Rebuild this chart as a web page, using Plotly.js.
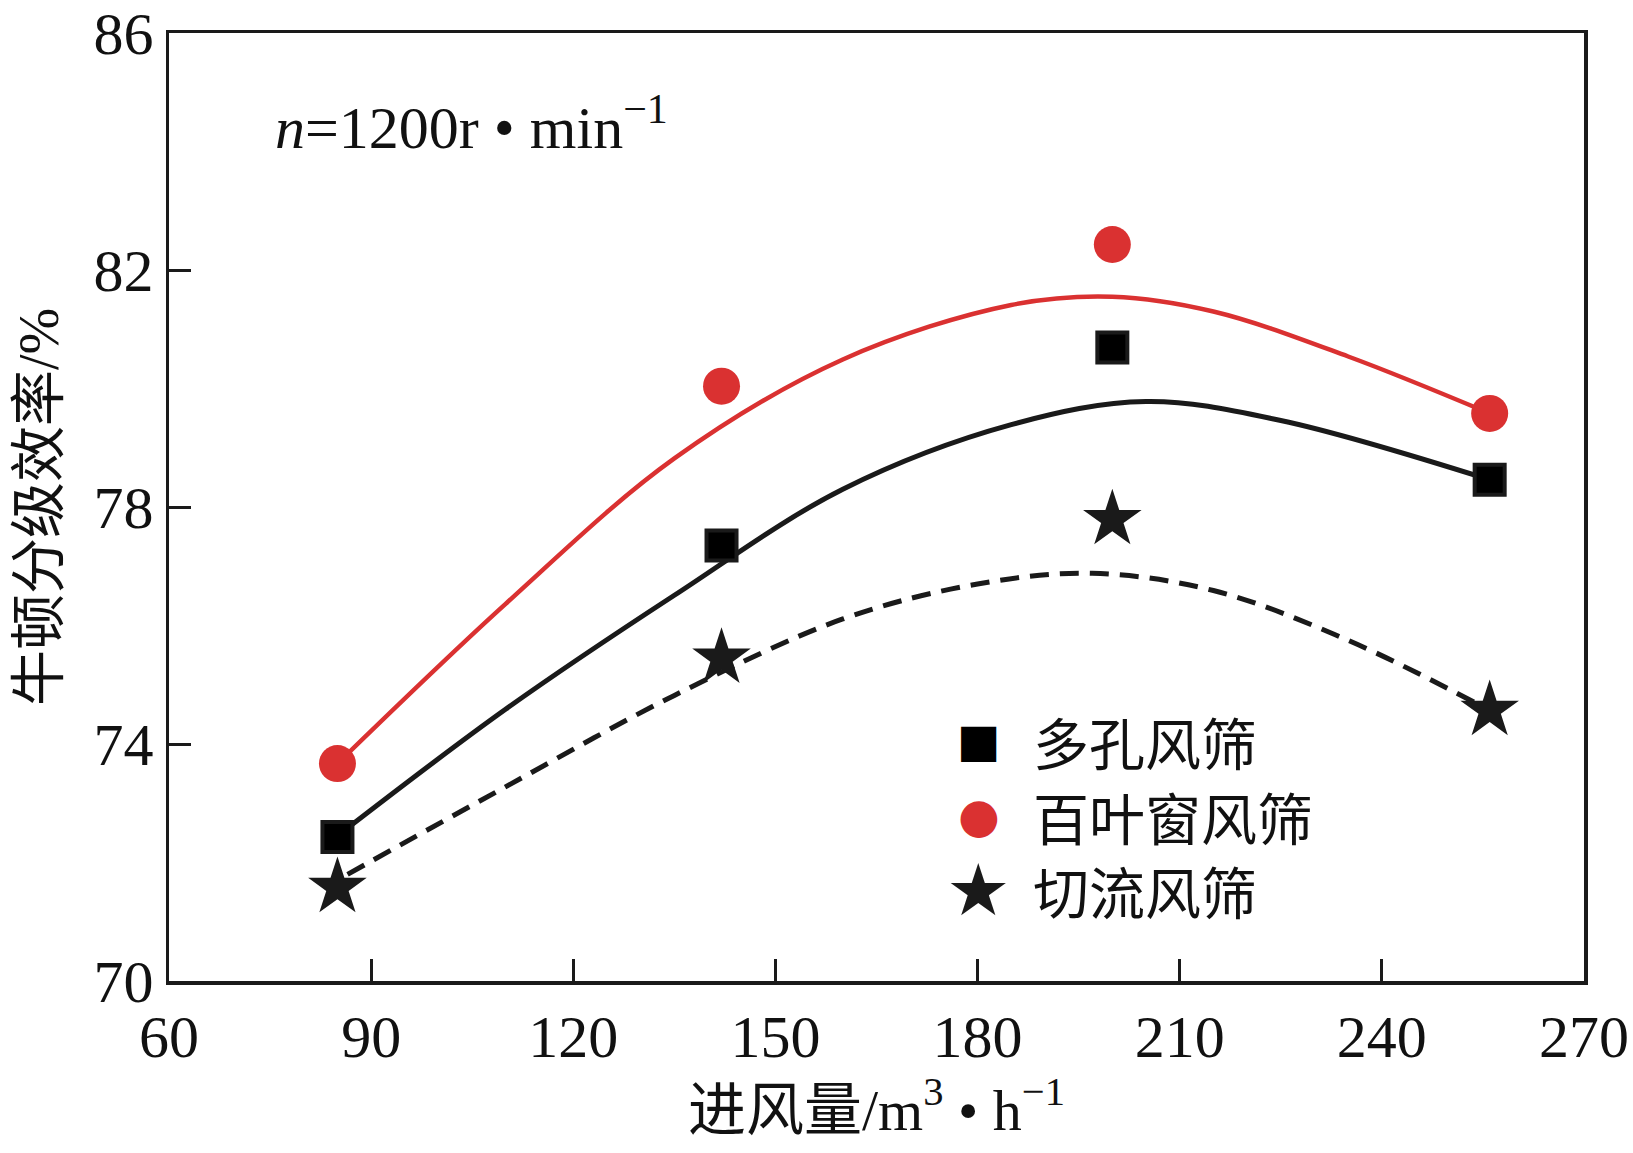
<!DOCTYPE html>
<html>
<head>
<meta charset="utf-8">
<script src="https://cdn.plot.ly/plotly-3.0.1.min.js"></script>
<style>html,body{margin:0;padding:0;background:#fff;}#chart{width:1633px;height:1153px;}</style>
</head>
<body>
<div id="chart"></div>
<script>
// measured points
const airflow = [85, 142, 200, 256];
const porousEff = [72.43, 77.35, 80.69, 78.46];
const louverEff = [73.67, 80.04, 82.43, 79.58];
const tangentialEff = [71.58, 75.45, 77.79, 74.57];

// fitted curves
const louverFitX = [85, 110, 135, 160, 185, 200, 215, 235, 256];
const louverFitY = [73.67, 76.37, 78.82, 80.49, 81.41, 81.55, 81.30, 80.54, 79.58];
const porousFitX = [85, 110, 135, 160, 185, 205, 225, 256];
const porousFitY = [72.45, 74.59, 76.51, 78.30, 79.39, 79.78, 79.46, 78.46];
const tangFitX = [86.5, 110, 135, 160, 180, 197, 215, 235, 256];
const tangFitY = [71.80, 73.28, 74.82, 76.11, 76.70, 76.88, 76.59, 75.75, 74.57];

const xTicks = [60, 90, 120, 150, 180, 210, 240, 270];
const yTicks = [70, 74, 78, 82, 86];
const seriesNames = ['多孔风筛', '百叶窗风筛', '切流风筛'];

const RED = '#da3131';
const BLK = '#1a1a1a';
const FONT = 'Liberation Serif, "Noto Sans CJK SC", serif';

const traces = [
  {x: louverFitX, y: louverFitY, mode: 'lines', line: {color: RED, width: 4.5, shape: 'spline'}, showlegend: false},
  {x: porousFitX, y: porousFitY, mode: 'lines', line: {color: BLK, width: 5, shape: 'spline'}, showlegend: false},
  {x: tangFitX, y: tangFitY, mode: 'lines', line: {color: BLK, width: 5, shape: 'spline', dash: '19px,11px'}, showlegend: false},
  {x: airflow, y: porousEff, name: seriesNames[0], mode: 'markers', marker: {symbol: 'square', size: 30, color: '#000', line: {color: BLK, width: 4}}, showlegend: false},
  {x: airflow, y: louverEff, name: seriesNames[1], mode: 'markers', marker: {symbol: 'circle', size: 37, color: RED, line: {width: 0}}, showlegend: false},
  {x: airflow, y: tangentialEff, name: seriesNames[2], mode: 'markers', marker: {symbol: 'star', size: 44, color: BLK, line: {width: 0}}, showlegend: false}
];

const legendSymbols = ['<span style="color:#000">■</span>', '<span style="color:' + RED + '">●</span>', '<span style="color:#1a1a1a">★</span>'];
const legendSymSize = [46, 48, 72];
const legendY = [0.254, 0.175, 0.096];
const annotations = [
  {xref: 'paper', yref: 'paper', x: 0.0735, y: 0.905, xanchor: 'left', yanchor: 'middle', showarrow: false,
   text: '<i>n</i>=1200r • min<sup>−1</sup>', font: {family: FONT, size: 60, color: '#111'}}
];
for (let i = 0; i < 3; i++) {
  annotations.push({xref: 'paper', yref: 'paper', x: 0.5724, y: legendY[i], xanchor: 'center', yanchor: 'middle', showarrow: false,
    text: legendSymbols[i], font: {family: '"DejaVu Sans", sans-serif', size: legendSymSize[i]}});
  annotations.push({xref: 'paper', yref: 'paper', x: 0.609, y: legendY[i], xanchor: 'left', yanchor: 'middle', showarrow: false,
    text: seriesNames[i], font: {family: '"Noto Sans CJK SC", sans-serif', size: 56, color: '#111'}});
}

const layout = {
  width: 1633, height: 1153,
  margin: {l: 169, r: 49, t: 33, b: 172},
  paper_bgcolor: '#fff', plot_bgcolor: '#fff',
  font: {family: FONT, color: '#111'},
  xaxis: {
    range: [60, 270], tickvals: xTicks, ticktext: xTicks.map(String),
    ticks: 'inside', ticklen: 22, tickwidth: 3, tickcolor: BLK,
    showline: true, linewidth: 3.5, linecolor: BLK, mirror: true,
    showgrid: false, zeroline: false,
    tickfont: {family: FONT, size: 60, color: '#111'},
    title: {text: '进风量/m<sup>3</sup> • h<sup>−1</sup>', font: {family: FONT, size: 58, color: '#111'}, standoff: 14}
  },
  yaxis: {
    range: [70, 86], tickvals: yTicks, ticktext: yTicks.map(String),
    ticks: 'inside', ticklen: 22, tickwidth: 3, tickcolor: BLK,
    showline: true, linewidth: 3.5, linecolor: BLK, mirror: true,
    showgrid: false, zeroline: false,
    tickfont: {family: FONT, size: 60, color: '#111'},
    title: {text: '牛顿分级效率/%', font: {family: FONT, size: 56, color: '#111'}, standoff: 18}
  },
  annotations: annotations,
  showlegend: false
};

Plotly.newPlot('chart', traces, layout, {staticPlot: true});
</script>
</body>
</html>
